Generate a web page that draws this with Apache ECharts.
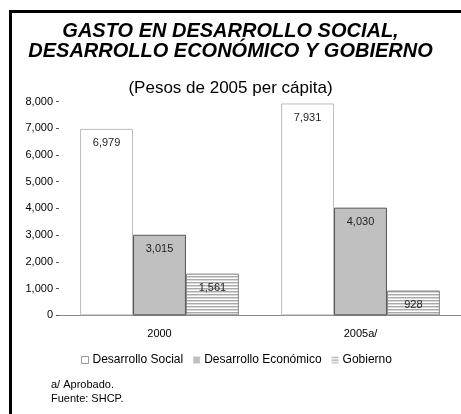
<!DOCTYPE html>
<html><head><meta charset="utf-8">
<script src="https://cdn.jsdelivr.net/npm/echarts@6/dist/echarts.min.js"></script>
<style>html,body{margin:0;padding:0;background:#fff}#c{width:461px;height:414px}</style>
</head><body><div id="c"></div>
<script>
const categories = ['2000', '2005a/'];
const seriesNames = ['Desarrollo Social', 'Desarrollo Económico', 'Gobierno'];
const social = [6979, 7931];
const economico = [3015, 4030];
const gobierno = [1561, 928];
const yTicks = [0, 1000, 2000, 3000, 4000, 5000, 6000, 7000, 8000];

const pc = document.createElement('canvas');
pc.width = 4; pc.height = 3;
const pctx = pc.getContext('2d');
pctx.fillStyle = '#ffffff'; pctx.fillRect(0, 0, 4, 3);
pctx.fillStyle = '#a8a8a8'; pctx.fillRect(0, 0, 4, 1);
pctx.fillStyle = '#d8d8d8'; pctx.fillRect(0, 1, 4, 1);
const stripe = { image: pc, repeat: 'repeat' };

const fmt = v => Number(v).toLocaleString('en-US');
const font = 'Liberation Sans, Arial, sans-serif';
const lbl = { show: true, position: 'insideTop', distance: 9, color: '#222', fontSize: 11, fontFamily: font, formatter: p => fmt(p.value) };

const chart = echarts.init(document.getElementById('c'), null, { renderer: 'canvas' });
chart.setOption({
  animation: false,
  backgroundColor: '#fff',
  textStyle: { fontFamily: font },
  title: [
    { text: 'GASTO EN DESARROLLO SOCIAL,\nDESARROLLO ECONÓMICO Y GOBIERNO', left: 'center', top: 16,
      textStyle: { fontSize: 20, fontWeight: 'bold', fontStyle: 'italic', color: '#000', lineHeight: 20, fontFamily: font } },
    { text: '(Pesos de 2005 per cápita)', left: 'center', top: 75,
      textStyle: { fontSize: 17, fontWeight: 'normal', color: '#000', fontFamily: font } },
    { text: 'a/ Aprobado.\nFuente: SHCP.', left: 46, top: 373,
      textStyle: { fontSize: 11, fontWeight: 'normal', color: '#000', lineHeight: 14, fontFamily: font } }
  ],
  legend: {
    left: 76, top: 349, itemWidth: 7, itemHeight: 7, itemGap: 10,
    icon: 'rect',
    textStyle: { fontSize: 12, color: '#000', fontFamily: font, padding: [0, 0, 0, -1] },
    data: [
      { name: seriesNames[0], itemStyle: { borderColor: '#999', borderWidth: 1 } },
      { name: seriesNames[1], itemStyle: { borderWidth: 0 } },
      { name: seriesNames[2], itemStyle: { borderWidth: 0 } }
    ]
  },
  grid: { left: 59, right: -2, top: 101.6, bottom: 98.7, containLabel: false },
  xAxis: {
    type: 'category', data: categories,
    axisLine: { lineStyle: { color: '#888', width: 1 } },
    axisTick: { show: false },
    axisLabel: { color: '#000', fontSize: 11, margin: 13, fontFamily: font }
  },
  yAxis: {
    type: 'value', min: yTicks[0], max: yTicks[yTicks.length - 1], interval: 1000,
    axisLine: { show: false },
    axisTick: { show: true, length: 3, lineStyle: { color: '#555' } },
    splitLine: { show: false },
    axisLabel: { color: '#000', fontSize: 11, margin: 6, fontFamily: font, formatter: v => fmt(v) }
  },
  series: [
    { name: seriesNames[0], type: 'bar', data: social, barGap: '0%', barCategoryGap: '21%',
      itemStyle: { color: '#fff', borderColor: '#bbb', borderWidth: 1 }, label: lbl },
    { name: seriesNames[1], type: 'bar', data: economico,
      itemStyle: { color: '#c0c0c0', borderColor: '#555', borderWidth: 1 }, label: lbl },
    { name: seriesNames[2], type: 'bar', data: gobierno,
      itemStyle: { color: stripe, borderColor: '#888', borderWidth: 1 }, label: lbl }
  ],
  graphic: [
    { type: 'rect', shape: { x: 10.5, y: 11.5, width: 470, height: 430 }, silent: true, z: 100,
      style: { fill: 'none', stroke: '#000', lineWidth: 3 } }
  ]
});
</script></body></html>
